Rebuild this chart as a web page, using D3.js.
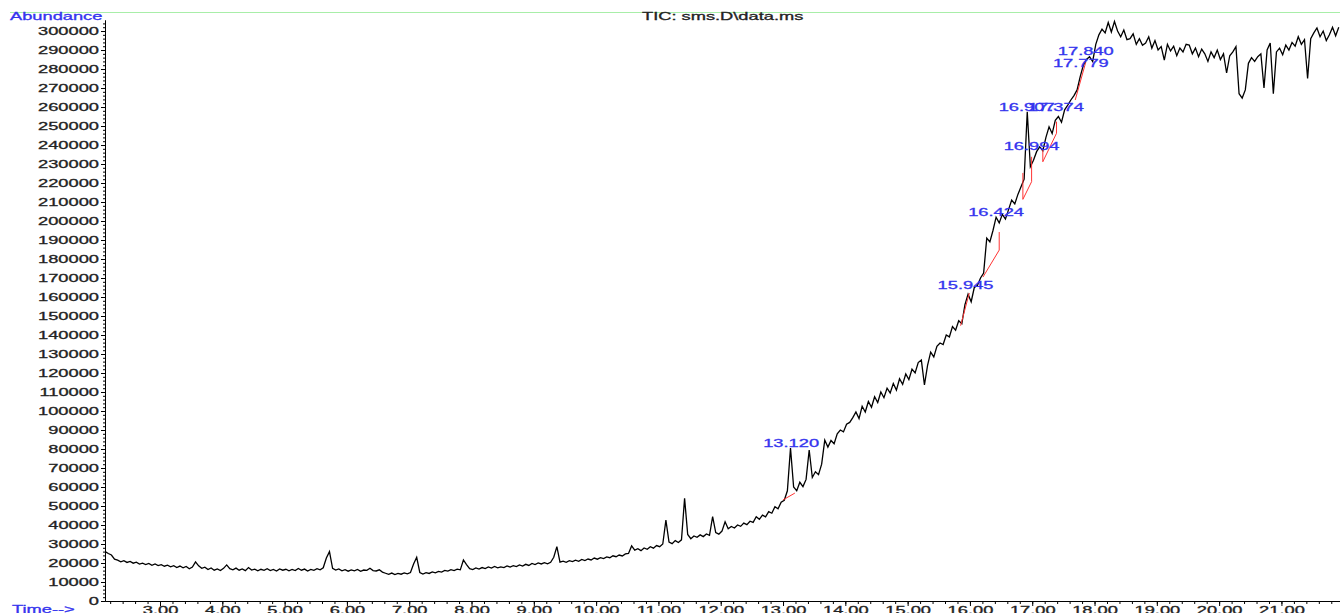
<!DOCTYPE html>
<html>
<head>
<meta charset="utf-8">
<script src="https://cdn.jsdelivr.net/npm/d3@7"></script>
<style>
body { margin: 0; background: #fff; }
text { font-family: "Liberation Sans", Arial, sans-serif; }
</style>
</head>
<body>
<div id="tic"></div>
<script>
// TIC readings, one every 0.05 min from 2.12 min, abundance in thousands
var startTime = 2.12, timeStep = 0.05;
var abundance = [
 26.0,25.0,24.2,22.0,21.5,20.6,21.2,20.3,20.8,19.9,20.4,19.4,19.9,19.2,19.8,18.8,19.5,18.6,19.1,18.3,
 18.9,18.0,18.6,17.6,18.4,17.5,18.2,17.0,17.9,20.6,18.5,17.2,17.8,16.6,17.4,16.2,16.9,16.0,17.2,19.0,
 17.0,16.4,17.3,16.2,16.9,16.0,17.6,16.3,16.8,15.9,16.7,16.1,17.0,16.0,16.6,15.8,16.9,16.2,16.7,15.9,
 16.6,16.0,17.1,16.2,16.8,15.8,16.6,16.1,17.0,16.4,17.5,22.6,26.0,17.2,16.3,16.9,15.9,16.5,15.7,16.4,
 15.9,16.6,15.6,16.3,16.1,17.2,16.0,15.8,16.4,15.2,14.6,14.0,14.7,13.9,14.5,14.1,14.8,14.3,15.0,19.5,
 23.0,15.0,14.2,14.9,14.5,15.3,14.8,15.6,15.2,16.1,15.7,16.5,16.0,16.8,16.4,21.6,19.2,17.0,16.5,17.4,
 16.8,17.6,17.1,17.9,17.3,18.2,17.5,18.0,17.6,18.5,17.9,18.6,18.1,19.0,18.4,19.3,18.7,19.8,19.2,20.0,
 19.5,20.2,19.6,20.4,23.0,28.6,20.5,21.0,20.4,21.2,20.7,21.5,20.9,21.9,21.3,22.1,21.6,22.6,22.0,22.8,
 22.3,23.2,22.8,23.8,23.3,24.2,23.7,24.8,25.0,29.0,26.8,27.5,26.5,27.9,27.2,28.6,27.8,29.2,28.6,30.0,
 42.6,31.0,30.2,31.8,30.8,32.2,54.0,35.0,32.8,34.2,33.5,34.8,33.9,35.3,34.6,44.4,36.0,35.2,36.8,41.7,
 38.0,39.2,38.4,40.0,39.3,41.0,40.2,42.0,41.4,44.4,43.0,45.2,44.3,47.0,46.2,49.6,48.5,52.0,53.0,58.0,
 80.5,60.0,58.0,62.5,60.2,64.0,79.5,65.0,68.0,66.5,72.0,84.7,81.0,84.5,82.8,88.0,90.0,89.0,93.0,94.0,
 96.5,99.5,96.0,102.5,99.5,105.0,102.0,107.5,104.5,110.0,107.0,112.0,109.5,114.5,111.0,117.0,114.0,119.5,116.5,122.0,
 120.0,125.5,126.8,113.7,124.0,131.0,128.5,134.0,135.8,135.0,140.0,139.0,144.4,142.5,147.5,146.0,156.0,161.5,157.5,165.0,
 166.0,170.0,172.6,191.0,189.0,195.0,202.0,199.0,203.5,201.0,206.0,211.0,209.0,214.0,218.0,222.0,257.5,228.6,232.0,236.5,
 239.0,237.0,244.0,249.6,246.0,253.0,255.0,252.0,258.5,261.0,263.7,266.0,269.0,276.0,282.0,285.0,286.5,284.0,293.0,298.0,
 301.0,299.0,304.5,299.5,305.0,300.0,297.0,300.5,295.5,296.0,298.5,293.0,296.0,292.5,293.7,297.0,291.0,295.0,290.0,291.8,
 284.7,293.0,289.5,292.0,287.0,291.0,289.0,293.0,292.6,288.0,291.0,286.5,290.5,288.0,284.0,289.0,286.0,290.0,285.0,288.0,
 277.9,287.0,289.0,291.8,267.0,264.7,269.0,283.0,286.0,284.0,286.5,288.0,270.0,290.0,293.7,267.0,289.0,291.0,287.5,292.6,
 290.0,294.0,292.0,297.0,293.0,295.5,275.0,296.0,299.0,301.6,297.0,300.0,295.0,298.0,302.0,297.5,302.0
];

// integrated peaks: label, retention time, label height (thousands)
var peakLabels = ["13.120", "15.945", "16.424", "16.907", "16.994", "17.374", "17.779", "17.840"];
var peakTimes  = [13.13, 15.93, 16.42, 16.91, 16.99, 17.38, 17.78, 17.86];
var peakTextAt = [81.0, 164.2, 202.6, 257.9, 237.4, 257.9, 281.0, 287.4];

// red integration baselines, [time, thousands]
var baselines = [
  [[13.00, 53.2], [13.19, 56.8]],
  [[15.85, 144.9], [15.99, 162.1]],
  [[16.21, 170.5], [16.47, 184.7], [16.47, 194.2]],
  [[16.85, 225.3], [16.85, 211.4], [16.99, 220.7], [16.99, 233.8]],
  [[17.17, 237.4], [17.17, 231.2], [17.39, 246.2], [17.39, 252.3]],
  [[17.69, 263.7], [17.86, 283.7]]
];

var yMajor = d3.range(0, 300001, 10000);
var yMinor = d3.range(0, 305001, 2000);
var xMajor = d3.range(3, 22, 1);
var xMinor = d3.range(2.2, 21.95, 0.2);

var width = 1340, height = 613;
var blue = "#3434ee";
var stretchK = 1.66;

function stretch(sel) {
  sel.each(function() {
    var w = this.getComputedTextLength();
    d3.select(this).attr("textLength", w * stretchK).attr("lengthAdjust", "spacingAndGlyphs");
  });
}

var svg = d3.select("#tic").append("svg")
  .attr("width", width)
  .attr("height", height);

var x = d3.scaleLinear().domain([2.117, 21.94]).range([105, 1340]);
var y = d3.scaleLinear().domain([0, 305800]).range([601, 20]);

// green frame line on top
svg.append("line")
  .attr("x1", 10).attr("x2", width)
  .attr("y1", 12.5).attr("y2", 12.5)
  .style("stroke", "#a8eea8")
  .style("stroke-width", 1);

// y axis
var yAxisMinor = svg.append("g")
  .attr("transform", "translate(105,0)")
  .call(d3.axisLeft(y).tickValues(yMinor).tickSize(2).tickSizeOuter(0).tickFormat(""));
var yAxis = svg.append("g")
  .attr("transform", "translate(105,0)")
  .call(d3.axisLeft(y).tickValues(yMajor).tickSize(4).tickSizeOuter(0).tickPadding(2)
    .tickFormat(d3.format("d")));

// x axis
var xAxisMinor = svg.append("g")
  .attr("transform", "translate(0,601)")
  .call(d3.axisBottom(x).tickValues(xMinor).tickSize(3).tickSizeOuter(0).tickFormat(""));
var xAxis = svg.append("g")
  .attr("transform", "translate(0,601)")
  .call(d3.axisBottom(x).tickValues(xMajor).tickSize(5).tickSizeOuter(0)
    .tickFormat(d3.format(".2f")));

svg.selectAll(".domain").style("stroke", "#000");
svg.selectAll(".tick line").style("stroke", "#000");

yAxis.selectAll("text")
  .style("font-size", "11px")
  .style("fill", "#222").style("stroke", "#222").style("stroke-width", 0.3);
xAxis.selectAll("text")
  .attr("y", 5)
  .style("font-size", "11px")
  .style("fill", "#222").style("stroke", "#222").style("stroke-width", 0.3);
stretch(yAxis.selectAll("text"));
stretch(xAxis.selectAll("text"));

// the trace
var line = d3.line()
  .x(function(d, i) { return x(startTime + i * timeStep); })
  .y(function(d) { return y(d * 1000); });

svg.append("path")
  .datum(abundance)
  .attr("d", line)
  .style("fill", "none")
  .style("stroke", "#000")
  .style("stroke-width", 1.3);

// integration baselines
var bline = d3.line()
  .x(function(d) { return x(d[0]); })
  .y(function(d) { return y(d[1] * 1000); });

svg.selectAll(".base")
  .data(baselines)
  .enter().append("path")
  .attr("class", "base")
  .attr("d", bline)
  .style("fill", "none")
  .style("stroke", "#ff3333")
  .style("stroke-width", 1);

// peak labels
var pl = svg.selectAll(".peak")
  .data(peakLabels)
  .enter().append("text")
  .attr("class", "peak")
  .attr("x", function(d, i) { return x(peakTimes[i]); })
  .attr("y", function(d, i) { return y(peakTextAt[i] * 1000); })
  .attr("text-anchor", "middle")
  .style("font-size", "11px")
  .style("fill", blue).style("stroke", blue).style("stroke-width", 0.3)
  .text(function(d) { return d; });
stretch(pl);

// titles
var t1 = svg.append("text")
  .attr("x", 10).attr("y", 20)
  .style("font-size", "11px")
  .style("fill", blue).style("stroke", blue).style("stroke-width", 0.3)
  .text("Abundance");
stretch(t1);

var t2 = svg.append("text")
  .attr("x", 642).attr("y", 20)
  .style("font-size", "11px")
  .style("fill", "#222").style("stroke", "#222").style("stroke-width", 0.3)
  .text("TIC: sms.D\\data.ms");
stretch(t2);

var t3 = svg.append("text")
  .attr("x", 12).attr("y", 613)
  .style("font-size", "11px")
  .style("fill", blue).style("stroke", blue).style("stroke-width", 0.3)
  .text("Time-->");
stretch(t3);
</script>
</body>
</html>
